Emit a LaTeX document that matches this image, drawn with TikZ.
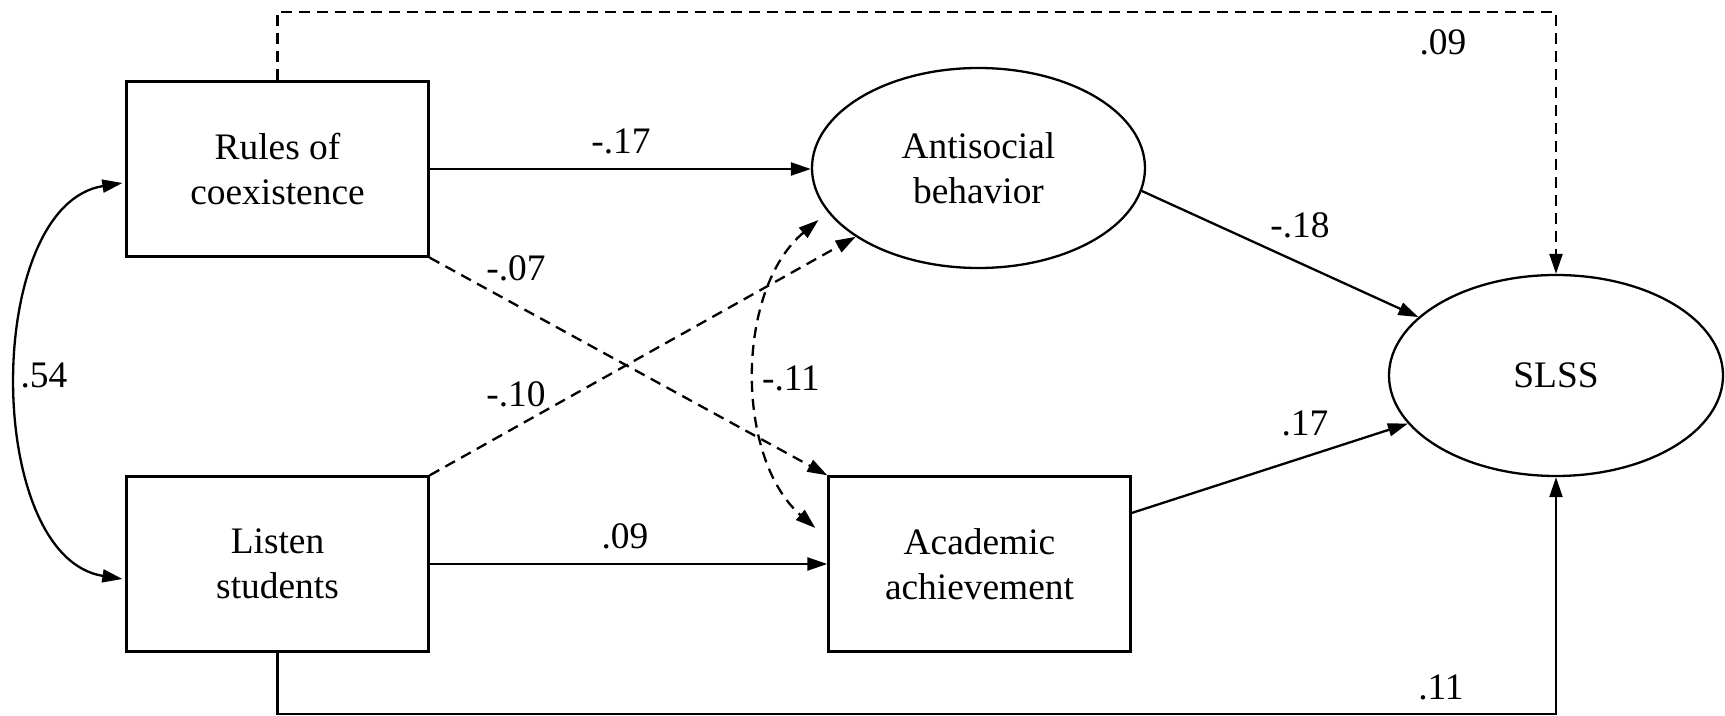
\documentclass[tikz,border=0pt]{standalone}
\usepackage{fontspec}
\setmainfont{Liberation Serif}
\usetikzlibrary{arrows.meta,shapes.geometric,calc}
\begin{document}
\begin{tikzpicture}[x=0.5pt,y=-0.5pt,
  font=\fontsize{18.7}{22.5}\selectfont,
  line width=1.15pt,
  box/.style={draw,rectangle,minimum width=151pt,minimum height=87.5pt,align=center,inner sep=0pt},
  oval/.style={draw,ellipse,align=center,inner sep=0pt},
  conn/.style={-{Triangle[length=10pt,width=6.5pt]}},
  both/.style={{Triangle[length=10pt,width=6.5pt]}-{Triangle[length=10pt,width=6.5pt]}},
  dsh/.style={dash pattern=on 5.5pt off 3.5pt},
  lbl/.style={inner sep=0pt}
]
\useasboundingbox (0,0) rectangle (1725,716);

\node[box] (rules) at (277.5,169) {Rules of\\coexistence};
\node[box] (listen) at (277.5,564) {Listen\\students};
\node[box] (acad) at (979.5,564) {Academic\\achievement};
\node[oval,minimum width=166.5pt,minimum height=100pt] (anti) at (978.5,168) {Antisocial\\behavior};
\node[oval,minimum width=167pt,minimum height=100.5pt] (slss) at (1556,375.5) {SLSS};

\coordinate (tc) at (900,12);
\coordinate (bc) at (900,714);

\draw[conn] (rules.east) -- (rules.east -| anti.west);
\draw[conn] (listen.east) -- (acad.west);
\draw[conn,dsh] (rules.south east) -- (acad.north west);
\draw[conn,dsh] (listen.north east) -- (anti);
\draw[conn] (anti.-8.5) -- (slss.157);
\draw[conn] ($(acad.east)+(0,-51)$) -- (slss.198);
\draw[conn,dsh] (rules.north) |- (tc) -| (slss.north);
\draw[conn] (listen.south) |- (bc) -| (slss.south);
\draw[both,dsh] ($(anti.center)+(-160,52)$) .. controls (735,290) and (735,458) .. ($(acad.west)+(-12,-36)$);
\draw[both] ($(rules.west)+(-3,14)$) .. controls (-17,205) and (-17,557) .. ($(listen.west)+(-3,15)$);

\node[lbl] (l1) at (1443,42) {.09};
\node[lbl] (l2) at (621,141) {-.17};
\node[lbl] (l3) at (516,268) {-.07};
\node[lbl] (l4) at (1300,225) {-.18};
\node[lbl] (l5) at (44,375) {.54};
\node[lbl] (l6) at (516,394) {-.10};
\node[lbl] (l7) at (791,378) {-.11};
\node[lbl] (l8) at (1305,423) {.17};
\node[lbl] (l9) at (625,536) {.09};
\node[lbl] (l10) at (1441,687) {.11};
\end{tikzpicture}
\end{document}
